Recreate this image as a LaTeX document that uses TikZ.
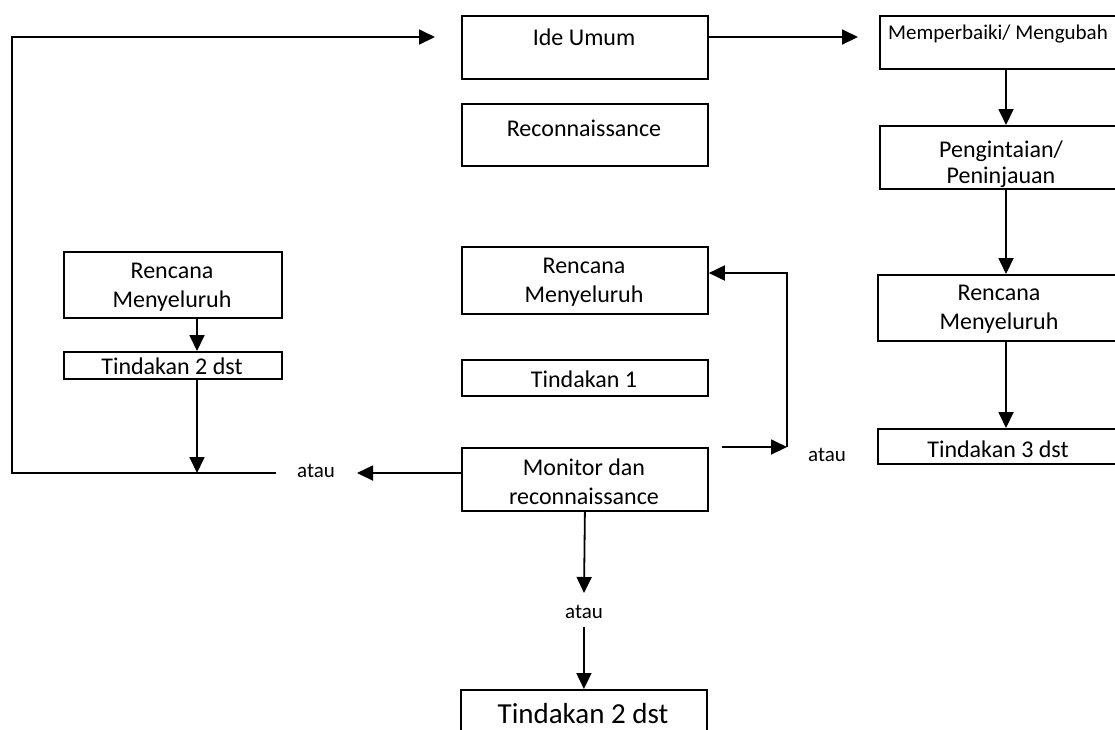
\documentclass[tikz,border=0pt]{standalone}
\usepackage{fontspec}
\setmainfont{Carlito}
\usetikzlibrary{arrows.meta,calc}
\begin{document}
\begin{tikzpicture}[x=1pt,y=-1pt,
  box/.style={draw,line width=1.8pt,inner sep=0pt,anchor=north west},
  txt/.style={font=\fontsize{24}{29}\selectfont,align=center,inner sep=0pt},
  smalltxt/.style={font=\fontsize{21}{25}\selectfont,align=center,inner sep=0pt},
  bigtxt/.style={font=\fontsize{29}{35}\selectfont,align=center,inner sep=0pt},
  conn/.style={line width=1.8pt},
  arr/.style={line width=1.8pt,-{Triangle[length=16pt,width=15pt]}}]
\clip (0,0) rectangle (1115,729);
\fill[white] (0,0) rectangle (1115,729);
% boxes
\node[box,minimum width=246pt,minimum height=63pt] (ide) at (461,15) {};
\node[box,minimum width=246pt,minimum height=62pt] (recon) at (461,103) {};
\node[box,minimum width=246pt,minimum height=67pt] (renM) at (461,246) {};
\node[box,minimum width=246pt,minimum height=36pt] (tin1) at (461,359) {};
\node[box,minimum width=246pt,minimum height=63pt] (mon) at (461,447) {};
\node[box,minimum width=246pt,minimum height=60pt] (tinB) at (460,689) {};
\node[box,minimum width=241pt,minimum height=53pt] (memp) at (879,15) {};
\node[box,minimum width=241pt,minimum height=63pt] (peng) at (879,125) {};
\node[box,minimum width=243pt,minimum height=66pt] (renR) at (877,274) {};
\node[box,minimum width=243pt,minimum height=35pt] (tin3) at (877,428) {};
\node[box,minimum width=218pt,minimum height=66pt] (renL) at (63,251) {};
\node[box,minimum width=218pt,minimum height=27pt] (tinL) at (63,351) {};
% texts
\node[txt] (tIde) at (584,37) {Ide Umum};
\node[txt] (tRecon) at (584,128) {Reconnaissance};
\node[txt] (tRenM) at (584,282) {Rencana\\Menyeluruh};
\node[txt] (tTin1) at (584,379) {Tindakan 1};
\node[txt] (tMon) at (584,482) {Monitor dan\\reconnaissance};
\node[bigtxt] (tTinB) at (583,714) {Tindakan 2 dst};
\node[smalltxt] (tMemp) at (998,34) {Memperbaiki/ Mengubah};
\node[txt,font=\fontsize{24}{26}\selectfont] (tPeng) at (1001,164) {Pengintaian/\\Peninjauan};
\node[txt] (tRenR) at (999,309) {Rencana\\Menyeluruh};
\node[txt] (tTin3) at (998,449) {Tindakan 3 dst};
\node[txt] (tRenL) at (172,287) {Rencana\\Menyeluruh};
\node[txt] (tTinL) at (172,366) {Tindakan 2 dst};
\node[smalltxt] (atauL) at (316,471) {atau};
\node[smalltxt] (atauR) at (827,455) {atau};
\node[smalltxt] (atauB) at (584,612) {atau};
% coordinates
\coordinate (xl) at (197,0);
\coordinate (xr) at (1006,0);
\coordinate (topTip) at (435,37);
\coordinate (topLeft) at (12,37);
\coordinate (botLeft) at (12,473);
\coordinate (botEnd) at (276,473);
\coordinate (leftTip) at (357,473);
\coordinate (rightTip) at (858,37);
\coordinate (loopStart) at (722,447);
\coordinate (loopCorner) at (787,447);
\coordinate (loopTop) at (787,273);
\coordinate (downTip) at (584,593);
\coordinate (downStart) at (584,627);
% connectors
\draw[arr] (botEnd) -- (botLeft) -- (topLeft) -- (topTip);
\draw[arr] (ide.east |- rightTip) -- (rightTip);
\draw[arr] (renL.south -| xl) -- (tinL.north -| xl);
\draw[arr] (tinL.south -| xl) -- (botEnd -| xl);
\draw[arr] (mon.west |- leftTip) -- (leftTip);
\draw[arr] (loopStart) -- (loopCorner);
\draw[arr] (loopCorner) -- (loopTop) -- (renM.east |- loopTop);
\draw[arr] (mon.south) -- (downTip);
\draw[arr] (downStart) -- (tinB.north);
\draw[arr] (memp.south -| xr) -- (peng.north -| xr);
\draw[arr] (peng.south -| xr) -- (renR.north -| xr);
\draw[arr] (renR.south -| xr) -- (tin3.north -| xr);
\end{tikzpicture}
\end{document}
